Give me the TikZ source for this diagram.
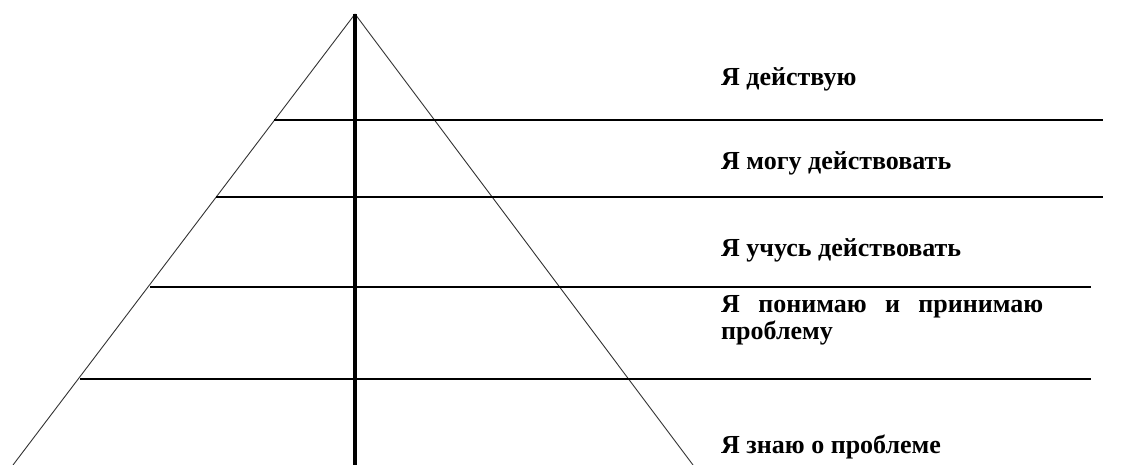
\documentclass[tikz,border=0pt]{standalone}
\usepackage{fontspec}
\setmainfont{Liberation Serif}
\begin{document}
\begin{tikzpicture}[x=1pt,y=-1pt,
  side/.style={draw=black!80,line width=0.9pt},
  axis/.style={draw=black,line width=4.5pt},
  level/.style={draw=black,line width=1.6pt},
  lbl/.style={anchor=base west,inner sep=0pt,font=\fontsize{26}{27}\selectfont\bfseries,align=left}]
\useasboundingbox (0,0) rectangle (1124,465);
\coordinate (apex) at (355,14);
\coordinate (bl) at (13,465);
\coordinate (br) at (693,465);
\coordinate (bm) at (355,466);
\draw[side] (apex) -- (bl);
\draw[side] (apex) -- (br);
\draw[axis] (apex) -- (bm);
\coordinate (l1) at (274,120); \coordinate (r1) at (1103,120);
\coordinate (l2) at (216,197); \coordinate (r2) at (1103,197);
\coordinate (l3) at (150,287); \coordinate (r3) at (1091,287);
\coordinate (l4) at (80,379);  \coordinate (r4) at (1091,379);
\draw[level] (l1) -- (r1);
\draw[level] (l2) -- (r2);
\draw[level] (l3) -- (r3);
\draw[level] (l4) -- (r4);
\node[lbl] (t1) at (721,86) {Я действую};
\node[lbl] (t2) at (721,170) {Я могу действовать};
\node[lbl] (t3) at (721,256) {Я учусь действовать};
\node[lbl] (t4) at (721,339) {\makebox[322pt][s]{Я понимаю и принимаю}\\проблему};
\node[lbl] (t5) at (721,453) {Я знаю о проблеме};
\end{tikzpicture}
\end{document}
